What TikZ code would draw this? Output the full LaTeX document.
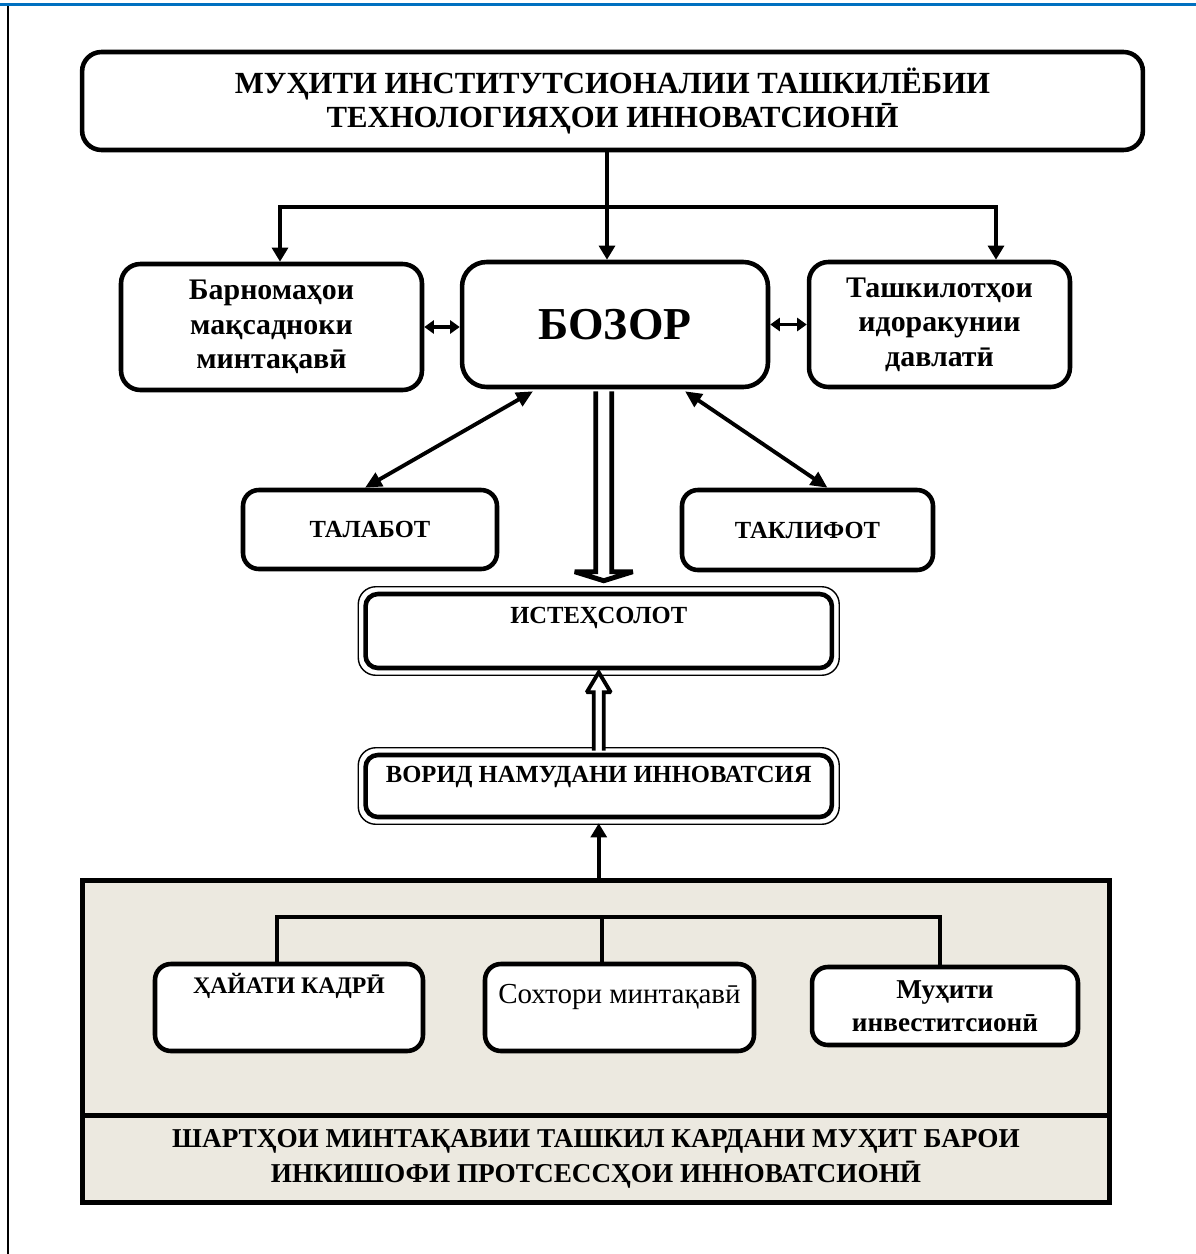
\documentclass[tikz,border=0pt]{standalone}
\usepackage{fontspec}
\setmainfont{Liberation Serif}
\usetikzlibrary{positioning,calc,arrows.meta}
\definecolor{panelbg}{RGB}{236,233,224}
\definecolor{pageblue}{RGB}{0,112,192}

\begin{document}
\begin{tikzpicture}[x=0.02cm, y=-0.02cm,
				box/.style={draw, rectangle, rounded corners=11pt, line width=2.6pt, fill=white, align=center, inner sep=0pt},
				panelbox/.style={draw, rectangle, line width=2.8pt, fill=panelbg, align=center, inner sep=0pt, minimum width=20.56cm},
				frame/.style={line width=0.8pt, rounded corners=10pt},
				arr/.style={line width=2.2pt, -{Triangle[length=8pt,width=9pt]}},
				arrd/.style={line width=2.2pt, {Triangle[length=9.5pt,width=8.5pt]}-{Triangle[length=9.5pt,width=8.5pt]}},
				arrs/.style={line width=2.2pt, {Triangle[length=5.5pt,width=7.5pt]}-{Triangle[length=5.5pt,width=7.5pt]}},
				link/.style={line width=2.2pt, line cap=rect},
				hollow/.style={draw, fill=white, line width=2.8pt, miter limit=2}
				]
				\useasboundingbox (0,0) rectangle (1196,1254);
				\draw[pageblue, line width=1.7pt] (0,4.5) -- (1196,4.5);
				\draw[line width=1pt] (8,6) -- (8,1254);
				
				\node[box, minimum width=21.22cm, minimum height=1.96cm, font=\bfseries\fontsize{17.5}{19}\selectfont] (inst) at (612.5,101) {МУҲИТИ ИНСТИТУТСИОНАЛИИ ТАШКИЛЁБИИ\\ТЕХНОЛОГИЯҲОИ ИННОВАТСИОНӢ};
				\node[box, minimum width=6.02cm, minimum height=2.52cm, font=\bfseries\fontsize{17}{19.6}\selectfont] (barnoma) at (271.5,327) {Барномаҳои\\мақсадноки\\минтақавӣ};
				\node[box, rounded corners=14pt, minimum width=6.12cm, minimum height=2.5cm, font=\bfseries\fontsize{26}{30}\selectfont] (bozor) at (615,324.5) {БОЗОР};
				\node[box, minimum width=5.22cm, minimum height=2.5cm, font=\bfseries\fontsize{17}{19.6}\selectfont] (davlat) at (939.5,324.5) {Ташкилотҳои\\идоракунии\\давлатӣ};
				\node[box, rounded corners=9pt, minimum width=5.08cm, minimum height=1.58cm, font=\bfseries\fontsize{14}{16}\selectfont] (talabot) at (370,529.5) {ТАЛАБОТ};
				\node[box, rounded corners=9pt, minimum width=5.02cm, minimum height=1.6cm, font=\bfseries\fontsize{14}{16}\selectfont] (taklif) at (807.5,530) {ТАКЛИФОТ};
				\node[box, rounded corners=7pt, minimum width=9.33cm, text height=0.58cm, text depth=0.9cm, font=\bfseries\fontsize{14}{16}\selectfont] (isteh) at (598.75,631) {ИСТЕҲСОЛОТ};
				\node[box, rounded corners=7pt, minimum width=9.33cm, text height=0.54cm, text depth=0.7cm, font=\bfseries\fontsize{14}{16}\selectfont] (vorid) at (598.75,786) {ВОРИД НАМУДАНИ ИННОВАТСИЯ};
				\draw[frame] ($(isteh.south west)+(-5,5)$) rectangle ($(isteh.north east)+(5,-5)$);
				\draw[frame] ($(vorid.south west)+(-5,5)$) rectangle ($(vorid.north east)+(5,-5)$);
				
				\node[panelbox, minimum height=4.7cm] (panel) at (596,998) {};
				\node[panelbox, minimum height=1.74cm, font=\bfseries\fontsize{15.5}{20}\selectfont] (cond) at (596,1159) {ШАРТҲОИ МИНТАҚАВИИ ТАШКИЛ КАРДАНИ МУҲИТ БАРОИ\\ИНКИШОФИ ПРОТСЕССҲОИ ИННОВАТСИОНӢ};
				\node[box, rounded corners=9pt, minimum width=5.36cm, text height=0.58cm, text depth=1.16cm, font=\bfseries\fontsize{13.5}{16}\selectfont] (hayat) at (289,1007.5) {ҲАЙАТИ КАДРӢ};
				\node[box, rounded corners=9pt, minimum width=5.38cm, text height=0.78cm, text depth=0.96cm, font=\fontsize{16.5}{19}\selectfont] (sohtor) at (619.5,1007.5) {Сохтори минтақавӣ};
				\node[box, rounded corners=9pt, minimum width=5.32cm, minimum height=1.56cm, font=\bfseries\fontsize{15.5}{18.8}\selectfont] (muhit) at (945,1006) {Муҳити\\инвеститсионӣ};
				
				\coordinate (tl) at (280,207);
				\coordinate (tc) at (607,207);
				\coordinate (tr) at (996,207);
				\draw[link] (tl) -- (tr);
				\draw[arr] (inst.south -| tc) -- (tc |- bozor.north);
				\draw[arr] (tl) -- (tl |- barnoma.north);
				\draw[arr] (tr) -- (tr |- davlat.north);
				
				\draw[arrs] (barnoma.east) -- (barnoma.east -| bozor.west);
				\draw[arrs] (bozor.east) -- (bozor.east -| davlat.west);
				\draw[arrd] ($(bozor.south)+(-82,2)$) -- ($(talabot.north)+(-5,0)$);
				\draw[arrd] ($(bozor.south)+(70,2)$) -- ($(taklif.north)+(20,0)$);
				
				\coordinate (dn) at ($(isteh.north)+(5,-11)$);
				\draw[hollow] ($(bozor.south -| dn)+(-8,2)$) -- ($(dn)+(-8,-9)$) -- ($(dn)+(-29,-9)$) -- (dn) -- ($(dn)+(29,-9)$) -- ($(dn)+(8,-9)$) -- ($(bozor.south -| dn)+(8,2)$);
				\coordinate (up) at ($(isteh.south)+(0,2)$);
				\draw[hollow, line width=2.2pt] ($(vorid.north -| up)+(-5,-2)$) -- ($(up)+(-5,20)$) -- ($(up)+(-12,20)$) -- (up) -- ($(up)+(12,20)$) -- ($(up)+(5,20)$) -- ($(vorid.north -| up)+(5,-2)$);
				\draw[arr] (panel.north -| vorid.south) -- ($(vorid.south)+(0,4)$);
				
				\coordinate (bl) at (277,917);
				\coordinate (bc) at (602,917);
				\coordinate (br) at (940,917);
				\draw[link] (bl) -- (br);
				\draw[link] (bl) -- (bl |- hayat.north);
				\draw[link] (bc) -- (bc |- sohtor.north);
				\draw[link] (br) -- (br |- muhit.north);
			\end{tikzpicture}
\end{document}
